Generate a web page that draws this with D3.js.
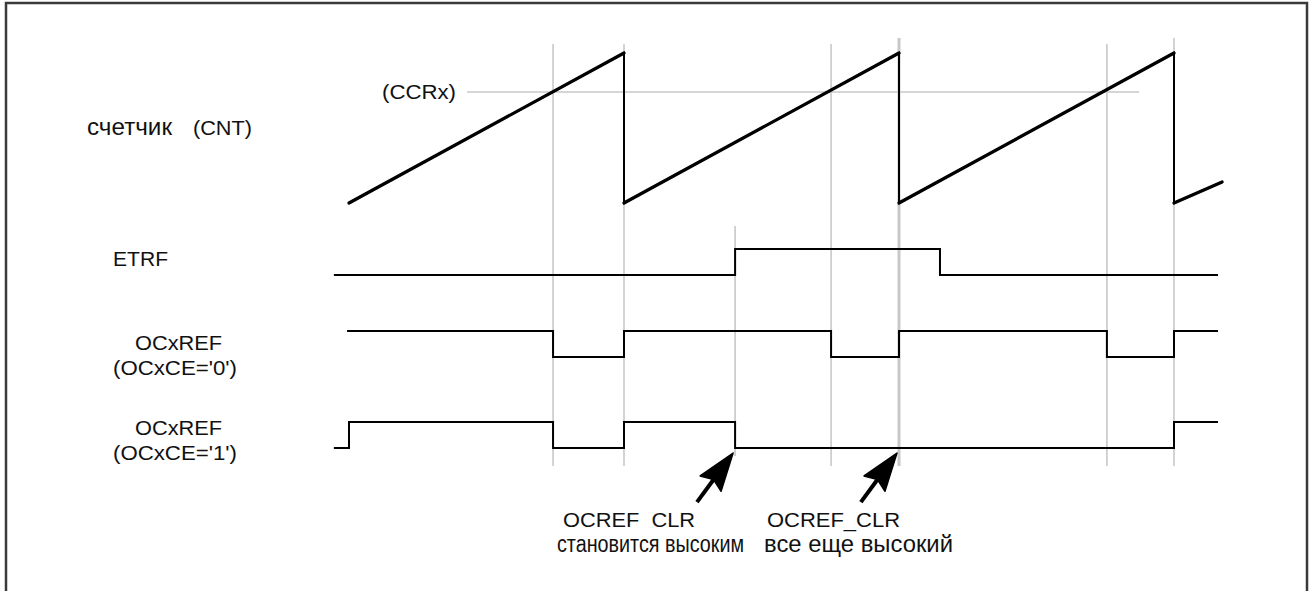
<!DOCTYPE html>
<meta charset='utf-8'>
<script src='https://d3js.org/d3.v7.min.js'></script>
<style>
  body { margin: 0; background: #fff; }
  text { font-family: 'Liberation Sans', Arial, sans-serif; fill: #111; white-space: pre; }
</style>
<body>
<script>
// time is measured in counter periods, counter value in % of its top
var counter = [[0, 0], [1, 100], [1, 0], [2, 100], [2, 0], [3, 100], [3, 0], [3.175, 14]];
var ccrx = 74;
var etrf = [[-0.055, 0], [1.404, 1], [2.149, 0], [3.16, 0]];
var ocref0 = [[-0.007, 1], [0.742, 0], [1, 1], [1.753, 0], [2, 1], [2.756, 0], [3, 1], [3.16, 1]];
var ocref1 = [[-0.055, 0], [0, 1], [0.742, 0], [1, 1], [1.404, 0], [3, 1], [3.16, 1]];
var markers = [0.742, 1, 1.404, 1.753, 2, 2.756, 3];
var arrowsAt = [1.404, 2];

var width = 1314,
    height = 591;

var svg = d3.select('body').append('svg').attr('width', width).attr('height', height);

var x = d3.scaleLinear().domain([0, 1]).range([349, 624]);
var yCnt = d3.scaleLinear().domain([0, 100]).range([203, 53]);
var level = d3.scaleLinear().domain([0, 1]).range([0, -26]);
var rowLow = {etrf: 275, oc0: 357, oc1: 448};

// frame
svg.append('rect').attr('x', 6).attr('y', 3).attr('width', 1301).attr('height', 700)
    .attr('fill', 'none').attr('stroke', '#3a3a3a').attr('stroke-width', 2.5);

// gray guide lines
var grid = svg.append('g').attr('stroke', '#c8c8c8').attr('fill', 'none');
grid.selectAll('.vline').data(markers).enter().append('line')
    .attr('x1', function(d) { return x(d); })
    .attr('x2', function(d) { return x(d); })
    .attr('y1', function(d) { return d === 1.404 ? 226 : (d === 2 || d === 3) ? 38 : 44; })
    .attr('y2', function(d) { return d === 1.404 ? 456 : 466; })
    .attr('stroke-width', function(d) { return d === 2 ? 3 : 1.6; });
grid.append('line')
    .attr('x1', x(0.429)).attr('x2', x(2.873))
    .attr('y1', yCnt(ccrx)).attr('y2', yCnt(ccrx))
    .attr('stroke-width', 1.6);

// counter sawtooth
var cntLine = d3.line().x(function(d) { return x(d[0]); }).y(function(d) { return yCnt(d[1]); });
svg.append('path').attr('d', cntLine(counter))
    .attr('fill', 'none').attr('stroke', '#000').attr('stroke-width', 2);
// ramps drawn a bit heavier
var ramps = d3.pairs(counter).filter(function(p) { return p[0][0] !== p[1][0]; });
svg.append('g').selectAll('path').data(ramps).enter().append('path')
    .attr('d', function(p) { return cntLine(p); })
    .attr('fill', 'none').attr('stroke', '#000').attr('stroke-width', 3.2).attr('stroke-linecap', 'round');

// digital signals
function drawSignal(data, base) {
  var line = d3.line().curve(d3.curveStepAfter)
      .x(function(d) { return x(d[0]); })
      .y(function(d) { return base + level(d[1]); });
  svg.append('path').attr('d', line(data))
      .attr('fill', 'none').attr('stroke', '#000').attr('stroke-width', 2);
}
drawSignal(etrf, rowLow.etrf);
drawSignal(ocref0, rowLow.oc0);
drawSignal(ocref1, rowLow.oc1);

// arrows pointing to the OCREF_CLR edges
var ang = Math.atan2(-49, 36) * 180 / Math.PI;
svg.append('g').selectAll('g').data(arrowsAt).enter().append('g')
    .attr('transform', function(d) { return 'translate(' + (x(d) - 2) + ',' + (rowLow.oc1 + 5) + ') rotate(' + ang + ')'; })
    .each(function() {
      var g = d3.select(this);
      g.append('path').attr('d', 'M0,0 L-38,-13 L-33,0 L-38,13 Z').attr('fill', '#000')
          .attr('stroke', '#000').attr('stroke-width', 1.5).attr('stroke-linejoin', 'round');
      g.append('line').attr('x1', -32).attr('x2', -61).attr('y1', 0).attr('y2', 0)
          .attr('stroke', '#000').attr('stroke-width', 4);
    });

// labels
function label(txt, px, py, len, size) {
  var t = svg.append('text').attr('x', px).attr('y', py).attr('font-size', size || 21).text(txt);
  if (len) t.attr('textLength', len).attr('lengthAdjust', 'spacingAndGlyphs');
  return t;
}
label('счетчик', 87, 135, 85, 23);
label('(CNT)', 193, 135, 59);
label('(CCRx)', 382, 99, 74);
label('ETRF', 113, 266, 55);
label('OCxREF', 135, 350, 87);
label("(OCxCE='0')", 113, 375, 124);
label('OCxREF', 135, 435, 87);
label("(OCxCE='1')", 113, 460, 124);
label('OCREF  CLR', 563, 527, 132);
label('становится высоким', 557, 552, 187, 23);
label('OCREF_CLR', 767, 527, 133);
label('все еще высокий', 764, 552, 189, 23);
</script>
